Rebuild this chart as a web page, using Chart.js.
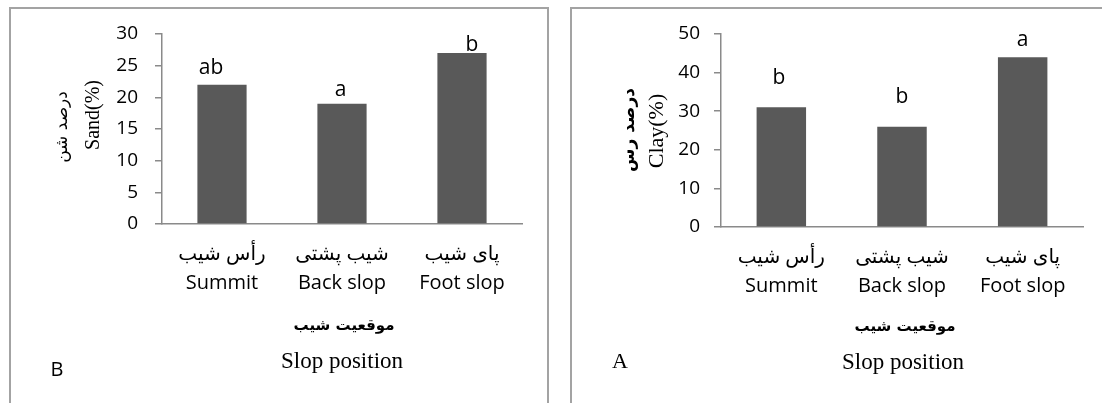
<!DOCTYPE html>
<html><head><meta charset="utf-8">
<script src="https://cdn.jsdelivr.net/npm/chart.js@4.4.1/dist/chart.umd.min.js"></script>
<style>
html,body{margin:0;padding:0;background:#fff;width:1102px;height:403px;overflow:hidden}
canvas{position:absolute;top:0}
#c1{left:0}
#c2{left:560px}
</style></head><body>
<canvas id="c1" width="560" height="403"></canvas>
<canvas id="c2" width="542" height="403"></canvas>
<script>
// ---- data ----
const categoriesEn = ['Summit', 'Back slop', 'Foot slop'];
const categoriesFa = ['رأس شیب', 'شیب پشتی', 'پای شیب'];
const sandValues = [22, 19, 27];
const sandLetters = ['ab', 'a', 'b'];
const sandTicks = [0, 5, 10, 15, 20, 25, 30];
const clayValues = [31, 26, 44];
const clayLetters = ['b', 'b', 'a'];
const clayTicks = [0, 10, 20, 30, 40, 50];
const xTitleFa = 'موقعیت شیب';
const xTitleEn = 'Slop position';
const sandTitleFa = 'درصد شن';
const sandTitleEn = 'Sand(%)';
const clayTitleFa = 'درصد رس';
const clayTitleEn = 'Clay(%)';

Chart.defaults.devicePixelRatio = 1;
const SANS = "'Open Sans','DejaVu Sans',sans-serif";
const FA = "'DejaVu Sans',sans-serif";
const SERIF = "'Liberation Serif','Times New Roman',serif";

function makeChart(id, values, letters, ticks, titleFa, titleEn, o) {
  const canvas = document.getElementById(id);
  const W = canvas.width, H = canvas.height;
  const labels = categoriesEn.map((en, i) => [categoriesFa[i], en]);
  const deco = {
    id: 'deco' + id,
    afterDraw(chart) {
      const ctx = chart.ctx;
      ctx.save();
      // panel frame
      ctx.strokeStyle = '#a3a3a3';
      ctx.lineWidth = 2;
      ctx.beginPath();
      ctx.moveTo(o.frame.x0, H + 2);
      ctx.lineTo(o.frame.x0, o.frame.y0);
      ctx.lineTo(o.frame.x1 == null ? W + 2 : o.frame.x1, o.frame.y0);
      if (o.frame.x1 != null) ctx.lineTo(o.frame.x1, H + 2);
      ctx.stroke();
      // significance letters
      const meta = chart.getDatasetMeta(0);
      ctx.fillStyle = '#000';
      ctx.font = '21px ' + SANS;
      ctx.textAlign = 'center';
      ctx.textBaseline = 'alphabetic';
      meta.data.forEach((bar, i) => {
        ctx.fillText(letters[i], bar.x + o.letterDx[i], bar.y + o.letterDy[i]);
      });
      // y titles (rotated)
      const rot = (txt, x, y, font) => {
        ctx.save();
        ctx.translate(x, y);
        ctx.rotate(-Math.PI / 2);
        ctx.font = font;
        ctx.textAlign = 'center';
        ctx.textBaseline = 'middle';
        ctx.fillText(txt, 0, 0);
        ctx.restore();
      };
      rot(titleFa, o.yFa.x, o.yFa.y, o.yFa.font);
      rot(titleEn, o.yEn.x, o.yEn.y, o.yEn.font);
      // x titles
      ctx.textAlign = 'center';
      ctx.textBaseline = 'middle';
      ctx.font = 'bold 15px ' + FA;
      ctx.fillText(xTitleFa, o.xFa.x, o.xFa.y);
      ctx.font = '23px ' + SERIF;
      ctx.fillText(xTitleEn, o.xEn.x, o.xEn.y);
      // panel label
      ctx.font = o.panel.font;
      ctx.fillText(o.panel.text, o.panel.x, o.panel.y);
      ctx.restore();
    }
  };
  return new Chart(canvas, {
    type: 'bar',
    data: {
      labels: labels,
      datasets: [{
        data: values,
        backgroundColor: '#595959',
        borderWidth: 0,
        barPercentage: 0.41,
        categoryPercentage: 1.0
      }]
    },
    options: {
      responsive: false,
      animation: false,
      events: [],
      layout: { padding: { top: o.top, right: W - o.right, bottom: 0, left: 0 } },
      plugins: { legend: { display: false }, tooltip: { enabled: false }, title: { display: false } },
      scales: {
        x: {
          grid: { display: false, drawTicks: false },
          border: { display: true, color: '#8a8a8a', width: 1.5 },
          ticks: {
            color: '#000',
            font: { family: SANS, size: 20, lineHeight: 1.45 },
            padding: o.xPad,
            maxRotation: 0,
            autoSkip: false
          },
          afterFit(scale) { scale.height = H - o.bottom; }
        },
        y: {
          min: ticks[0],
          max: ticks[ticks.length - 1],
          grid: { drawOnChartArea: false, drawTicks: true, tickLength: 7, color: '#8a8a8a', lineWidth: 1.5 },
          border: { display: true, color: '#8a8a8a', width: 1.5 },
          ticks: {
            stepSize: ticks[1] - ticks[0],
            color: '#000',
            font: { family: SANS, size: 19 },
            padding: o.yPad
          },
          afterFit(scale) { scale.width = o.axisX; }
        }
      }
    },
    plugins: [deco]
  });
}

makeChart('c1', sandValues, sandLetters, sandTicks, sandTitleFa, sandTitleEn, {
  axisX: 162, right: 522, top: 34, bottom: 224, yPad: 17, xPad: 16,
  frame: { x0: 10, y0: 8, x1: 548 },
  letterDx: [-11, -1.5, 10], letterDy: [-11, -8, -2],
  yFa: { x: 63, y: 127, font: '17px ' + FA }, yEn: { x: 94, y: 115, font: '20px ' + SERIF },
  xFa: { x: 344, y: 326 }, xEn: { x: 342, y: 362 },
  panel: { text: 'B', x: 57, y: 370, font: '20px ' + SANS }
});

makeChart('c2', clayValues, clayLetters, clayTicks, clayTitleFa, clayTitleEn, {
  axisX: 161, right: 523, top: 34, bottom: 227, yPad: 14, xPad: 16,
  frame: { x0: 11, y0: 8, x1: null },
  letterDx: [-2.5, 0, 0], letterDy: [-23, -24, -11],
  yFa: { x: 70, y: 130, font: 'bold 17px ' + FA }, yEn: { x: 97, y: 131, font: '22px ' + SERIF },
  xFa: { x: 345, y: 327 }, xEn: { x: 343, y: 363 },
  panel: { text: 'A', x: 60, y: 362, font: '22px ' + SERIF }
});
</script>
</body></html>
